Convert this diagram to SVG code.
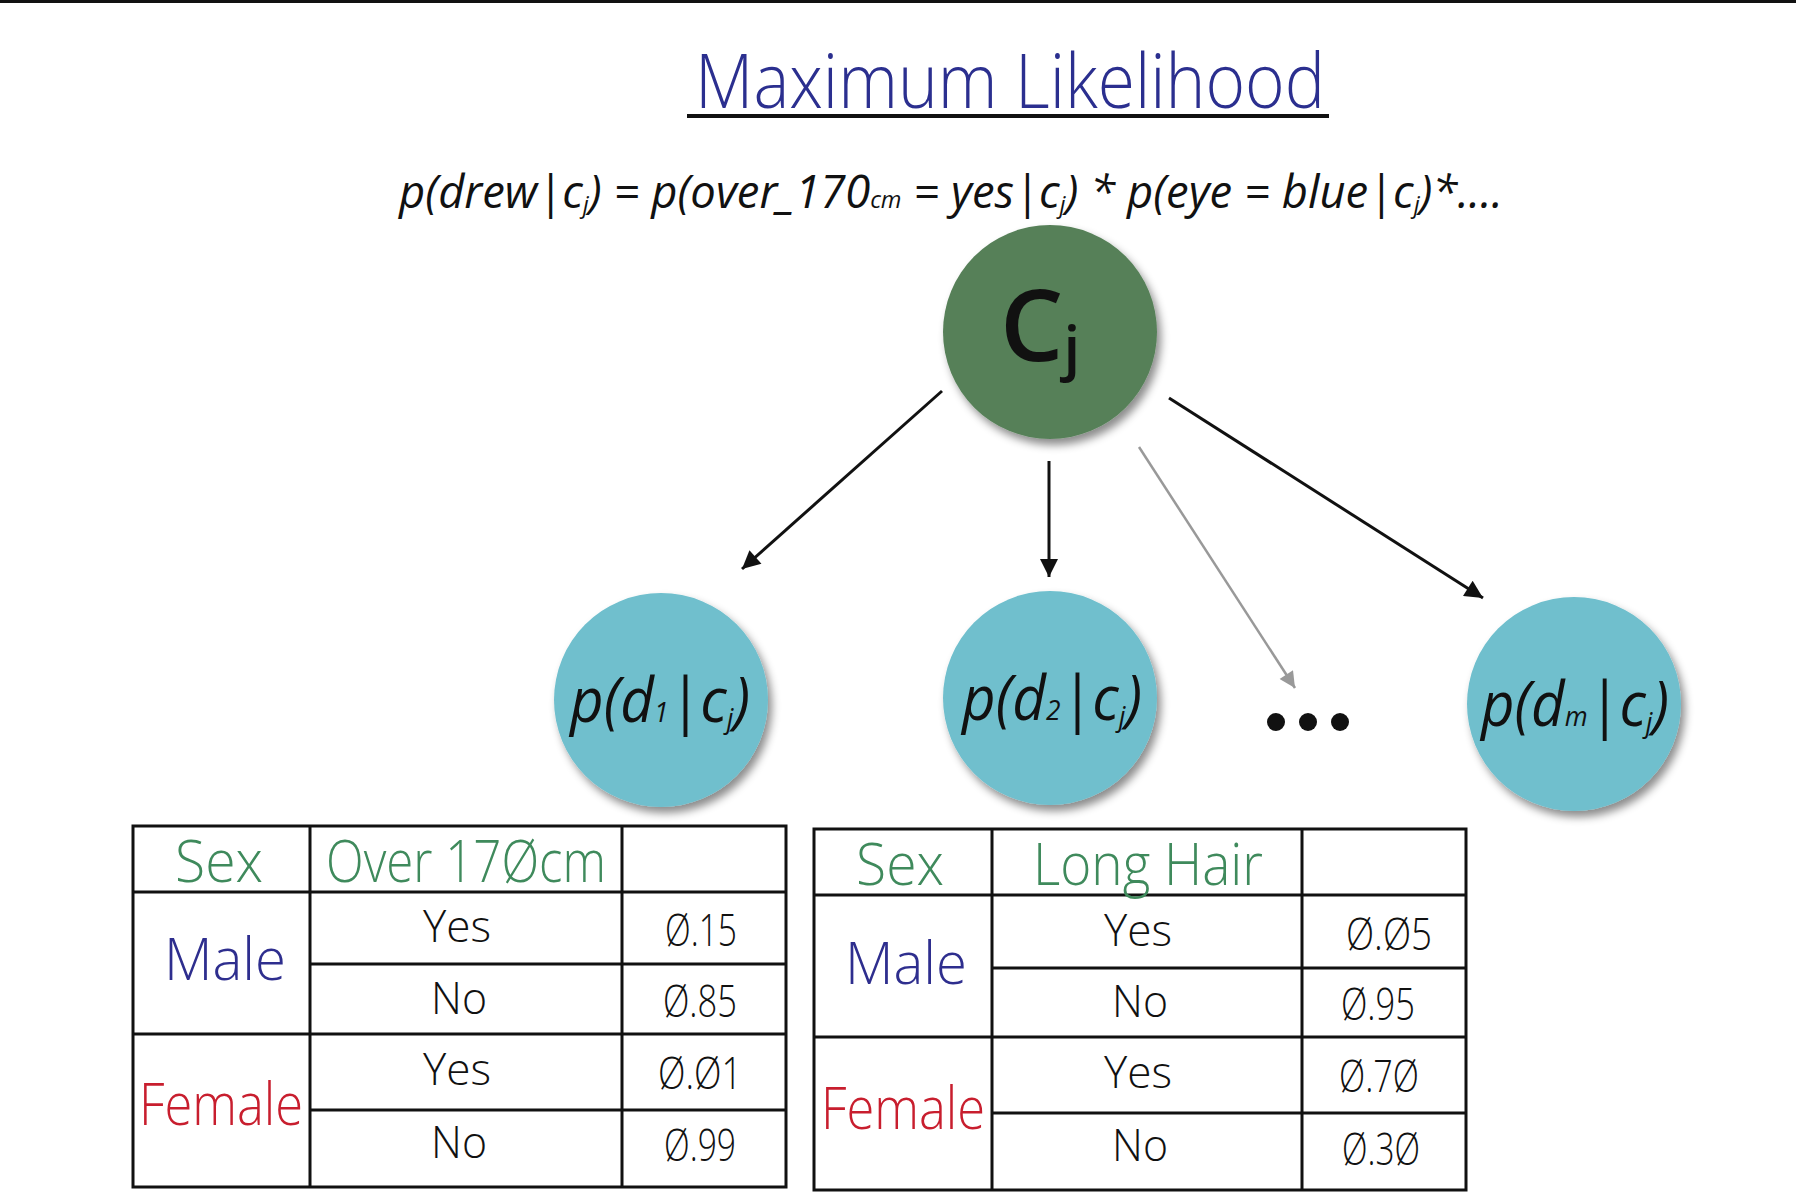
<svg xmlns="http://www.w3.org/2000/svg" width="1796" height="1200" viewBox="0 0 1796 1200">
<defs>
<style>
.hand{font-family:"Open Sans","Liberation Sans",sans-serif;font-weight:300}
.eq{font-family:"Open Sans","Liberation Sans",sans-serif;font-style:italic;font-size:46px;fill:#111}
.sub{font-size:24px}
.node{font-family:"Open Sans","Liberation Sans",sans-serif;font-style:italic;font-size:62px;fill:#111}
.nsub{font-size:28px}
.grid line{stroke:#111;stroke-width:3}
.grid rect{fill:#fff;stroke:#111;stroke-width:3}
.green{fill:#3f8a5c}
.blue{fill:#2e2e8e}
.red{fill:#c81e2e}
.blk{fill:#111}
.conn{stroke:#111;stroke-width:3;fill:none}
</style>
<filter id="sh" x="-20%" y="-20%" width="150%" height="150%">
<feDropShadow dx="4" dy="6" stdDeviation="4" flood-color="#000" flood-opacity="0.45"/>
</filter>
<marker id="ah" viewBox="0 0 10 10" refX="10" refY="5" markerWidth="22" markerHeight="18" markerUnits="userSpaceOnUse" orient="auto"><path d="M0,0 L10,5 L0,10 z" fill="#111"/></marker>
<marker id="ahg" viewBox="0 0 10 10" refX="10" refY="5" markerWidth="20" markerHeight="16" markerUnits="userSpaceOnUse" orient="auto"><path d="M0,0 L10,5 L0,10 z" fill="#999"/></marker>
</defs>
<rect x="0" y="0" width="1796" height="1200" fill="#fff"/>
<rect x="0" y="0" width="1796" height="3" fill="#111"/>

<g id="title">
<text class="hand" x="1010" y="108" text-anchor="middle" font-size="76" fill="#2b2f8f" textLength="630" lengthAdjust="spacingAndGlyphs">Maximum Likelihood</text>
<line x1="687" y1="116" x2="1329" y2="116" stroke="#111" stroke-width="4"/>
</g>

<g id="equation">
<text class="eq" x="399" y="208" textLength="1104" lengthAdjust="spacingAndGlyphs">p(drew|c<tspan class="sub" dy="5">j</tspan><tspan dy="-5">) = p(over_170</tspan><tspan class="sub">cm</tspan><tspan> = yes|c</tspan><tspan class="sub" dy="5">j</tspan><tspan dy="-5">) * p(eye = blue|c</tspan><tspan class="sub" dy="5">j</tspan><tspan dy="-5">)*....</tspan></text>
</g>

<g id="connectors">
<line class="conn" x1="942" y1="391" x2="742" y2="569" marker-end="url(#ah)"/>
<line class="conn" x1="1049" y1="461" x2="1049" y2="577" marker-end="url(#ah)"/>
<line x1="1139" y1="447" x2="1295" y2="688" stroke="#999" stroke-width="2.5" marker-end="url(#ahg)"/>
<line class="conn" x1="1169" y1="398" x2="1483" y2="598" marker-end="url(#ah)"/>
</g>

<g id="node-cj">
<circle cx="1050" cy="332" r="107" fill="#578059" filter="url(#sh)"/>
<text x="1000" y="361" font-family="Open Sans, Liberation Sans, sans-serif" font-weight="600" font-size="100" fill="#111">C<tspan font-size="60" dy="8">j</tspan></text>
</g>

<g id="node-d1">
<circle cx="661" cy="700" r="107" fill="#6fbfcd" filter="url(#sh)"/>
<text class="node" x="660" y="722" text-anchor="middle" textLength="180" lengthAdjust="spacingAndGlyphs">p(d<tspan class="nsub">1</tspan>|c<tspan class="nsub" dy="6">j</tspan><tspan dy="-6">)</tspan></text>
</g>

<g id="node-d2">
<circle cx="1050" cy="698" r="107" fill="#6fbfcd" filter="url(#sh)"/>
<text class="node" x="1052" y="720" text-anchor="middle" textLength="180" lengthAdjust="spacingAndGlyphs">p(d<tspan class="nsub">2</tspan>|c<tspan class="nsub" dy="6">j</tspan><tspan dy="-6">)</tspan></text>
</g>

<g id="node-dots">
<circle cx="1276" cy="722" r="9" fill="#111"/>
<circle cx="1308" cy="722" r="9" fill="#111"/>
<circle cx="1340" cy="722" r="9" fill="#111"/>
</g>

<g id="node-dm">
<circle cx="1574" cy="704" r="107" fill="#6fbfcd" filter="url(#sh)"/>
<text class="node" x="1575" y="726" text-anchor="middle" textLength="188" lengthAdjust="spacingAndGlyphs">p(d<tspan class="nsub">m</tspan>|c<tspan class="nsub" dy="6">j</tspan><tspan dy="-6">)</tspan></text>
</g>

<g id="table-height">
<g class="grid">
<rect x="133" y="826" width="653" height="361"/>
<line x1="310" y1="826" x2="310" y2="1187"/>
<line x1="622" y1="826" x2="622" y2="1187"/>
<line x1="133" y1="892" x2="786" y2="892"/>
<line x1="310" y1="964" x2="786" y2="964"/>
<line x1="133" y1="1034" x2="786" y2="1034"/>
<line x1="310" y1="1110" x2="786" y2="1110"/>
</g>
<g class="hand">
<text class="green" x="219" y="882" font-size="58" text-anchor="middle" textLength="88" lengthAdjust="spacingAndGlyphs">Sex</text>
<text class="green" x="466" y="882" font-size="58" text-anchor="middle" textLength="280" lengthAdjust="spacingAndGlyphs">Over  17Øcm</text>
<text class="blue" x="225" y="980" font-size="58" text-anchor="middle" textLength="122" lengthAdjust="spacingAndGlyphs">Male</text>
<text class="red" x="221" y="1125" font-size="58" text-anchor="middle" textLength="164" lengthAdjust="spacingAndGlyphs">Female</text>
<text class="blk" x="457" y="942" font-size="44" text-anchor="middle" textLength="68" lengthAdjust="spacingAndGlyphs">Yes</text>
<text class="blk" x="459" y="1014" font-size="44" text-anchor="middle" textLength="56" lengthAdjust="spacingAndGlyphs">No</text>
<text class="blk" x="457" y="1085" font-size="44" text-anchor="middle" textLength="68" lengthAdjust="spacingAndGlyphs">Yes</text>
<text class="blk" x="459" y="1158" font-size="44" text-anchor="middle" textLength="56" lengthAdjust="spacingAndGlyphs">No</text>
<text class="blk" x="701" y="946" font-size="44" text-anchor="middle" textLength="72" lengthAdjust="spacingAndGlyphs">Ø.15</text>
<text class="blk" x="700" y="1017" font-size="44" text-anchor="middle" textLength="74" lengthAdjust="spacingAndGlyphs">Ø.85</text>
<text class="blk" x="700" y="1089" font-size="44" text-anchor="middle" textLength="84" lengthAdjust="spacingAndGlyphs">Ø.Ø1</text>
<text class="blk" x="700" y="1161" font-size="44" text-anchor="middle" textLength="72" lengthAdjust="spacingAndGlyphs">Ø.99</text>
</g>
</g>

<g id="table-hair">
<g class="grid">
<rect x="814" y="829" width="652" height="361"/>
<line x1="992" y1="829" x2="992" y2="1190"/>
<line x1="1302" y1="829" x2="1302" y2="1190"/>
<line x1="814" y1="895" x2="1466" y2="895"/>
<line x1="992" y1="968" x2="1466" y2="968"/>
<line x1="814" y1="1037" x2="1466" y2="1037"/>
<line x1="992" y1="1113" x2="1466" y2="1113"/>
</g>
<g class="hand">
<text class="green" x="900" y="885" font-size="58" text-anchor="middle" textLength="88" lengthAdjust="spacingAndGlyphs">Sex</text>
<text class="green" x="1148" y="885" font-size="58" text-anchor="middle" textLength="230" lengthAdjust="spacingAndGlyphs">Long  Hair</text>
<text class="blue" x="906" y="984" font-size="58" text-anchor="middle" textLength="122" lengthAdjust="spacingAndGlyphs">Male</text>
<text class="red" x="903" y="1129" font-size="58" text-anchor="middle" textLength="164" lengthAdjust="spacingAndGlyphs">Female</text>
<text class="blk" x="1138" y="946" font-size="44" text-anchor="middle" textLength="68" lengthAdjust="spacingAndGlyphs">Yes</text>
<text class="blk" x="1140" y="1017" font-size="44" text-anchor="middle" textLength="56" lengthAdjust="spacingAndGlyphs">No</text>
<text class="blk" x="1138" y="1088" font-size="44" text-anchor="middle" textLength="68" lengthAdjust="spacingAndGlyphs">Yes</text>
<text class="blk" x="1140" y="1161" font-size="44" text-anchor="middle" textLength="56" lengthAdjust="spacingAndGlyphs">No</text>
<text class="blk" x="1389" y="950" font-size="44" text-anchor="middle" textLength="86" lengthAdjust="spacingAndGlyphs">Ø.Ø5</text>
<text class="blk" x="1378" y="1020" font-size="44" text-anchor="middle" textLength="74" lengthAdjust="spacingAndGlyphs">Ø.95</text>
<text class="blk" x="1379" y="1092" font-size="44" text-anchor="middle" textLength="80" lengthAdjust="spacingAndGlyphs">Ø.7Ø</text>
<text class="blk" x="1381" y="1165" font-size="44" text-anchor="middle" textLength="78" lengthAdjust="spacingAndGlyphs">Ø.3Ø</text>
</g>
</g>
</svg>
